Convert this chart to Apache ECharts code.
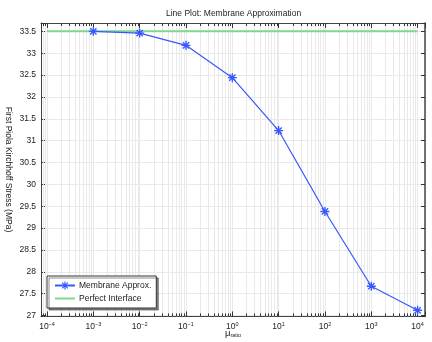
<!DOCTYPE html>
<html>
<head>
<meta charset="utf-8">
<script src="https://cdn.jsdelivr.net/npm/echarts@6/dist/echarts.min.js"></script>
<style>
html,body{margin:0;padding:0;background:#fff;}
#chart{width:432px;height:342px;}
</style>
</head>
<body>
<div id="chart"></div>
<script>
// ---- data ----
const muRatio = [1e-3, 1e-2, 1e-1, 1, 10, 100, 1000, 10000];
const membraneStress = [33.50, 33.46, 33.18, 32.44, 31.23, 29.38, 27.67, 27.12];
const perfectX = [1e-4, 1e4];
const perfectStress = [33.50, 33.50];
const yTicks = [27, 27.5, 28, 28.5, 29, 29.5, 30, 30.5, 31, 31.5, 32, 32.5, 33, 33.5];
const xDecades = [-4, -3, -2, -1, 0, 1, 2, 3, 4];

const X_MIN = Math.pow(10, -4.13);
const X_MAX = Math.pow(10, 4.16);
const Y_MIN = 26.98;
const Y_MAX = 33.69;

// minor tick values (2..9 x 10^n) for the log axis decoration
const minorVals = [];
for (let n = -5; n <= 4; n++) {
  for (let k = 2; k <= 9; k++) {
    const v = k * Math.pow(10, n);
    if (v > X_MIN && v < X_MAX) minorVals.push([v, 30]);
  }
}

const FONT = 'Liberation Sans';
const TXT = '#222';
const BLUE = '#3858ff';
const GREEN = '#7fd68f';
const GRID = '#e9e9e9';
const FRAME = '#444';

const star = 'path://M0 8.5L20 8.5L20 11.5L0 11.5Z M8.5 0L11.5 0L11.5 20L8.5 20Z M4.06 1.94L18.06 15.94L15.94 18.06L1.94 4.06Z M15.94 1.94L18.06 4.06L4.06 18.06L1.94 15.94Z';
const dash = 'path://M0 0L20 0L20 2L0 2Z';

function xLabel(v) {
  const e = Math.log10(v);
  const r = Math.round(e);
  if (Math.abs(e - r) > 1e-6 || xDecades.indexOf(r) < 0) return '';
  return '10{sup|' + (r < 0 ? '\u2212' + (-r) : r) + '}';
}
function yLabel(v) {
  for (const t of yTicks) if (Math.abs(v - t) < 1e-6) return String(t);
  return '';
}

const chart = echarts.init(document.getElementById('chart'), null, {renderer: 'canvas'});
chart.setOption({
  animation: false,
  backgroundColor: '#fff',
  textStyle: {fontFamily: FONT, color: TXT},
  title: {
    text: 'Line Plot: Membrane Approximation',
    left: 166, top: 9,
    padding: 0,
    textStyle: {fontFamily: FONT, fontSize: 8.5, fontWeight: 'normal', color: TXT}
  },
  grid: {left: 41, right: 7, top: 23, bottom: 25.6, containLabel: false, outerBoundsMode: 'none'},
  graphic: [{
    type: 'text', x: 8, y: 169.5, rotation: -Math.PI / 2,
    style: {text: 'First Piola Kirchhoff Stress (MPa)', font: '8.5px "Liberation Sans"', fill: TXT, align: 'center', verticalAlign: 'middle'}
  }, {
    type: 'text', x: 233, y: 333,
    style: {
      text: '{mu|\u03bc}{sub|ratio}', align: 'center', verticalAlign: 'middle', fill: TXT,
      rich: {
        mu: {fontFamily: FONT, fontSize: 9.5, fill: TXT},
        sub: {fontFamily: FONT, fontSize: 5.5, fill: TXT, verticalAlign: 'bottom', padding: [4, 0, 0, 0]}
      }
    }
  }],
  legend: {
    left: 47, top: 276,
    orient: 'vertical',
    data: [
      {name: 'Membrane Approx.'},
      {name: 'Perfect Interface', icon: dash}
    ],
    itemWidth: 20, itemHeight: 10, itemGap: 4,
    padding: [5, 5, 5, 7],
    backgroundColor: '#fff',
    borderColor: '#333', borderWidth: 1,
    shadowColor: 'rgba(0,0,0,0.45)', shadowOffsetX: 2, shadowOffsetY: 2, shadowBlur: 0,
    textStyle: {fontFamily: FONT, fontSize: 8.5, color: TXT, padding: [0, 0, 0, -1]}
  },
  xAxis: [{
    type: 'log', logBase: 10, min: X_MIN, max: X_MAX,
    position: 'bottom',
    axisLine: {show: true, lineStyle: {color: FRAME, width: 1}},
    axisTick: {show: true, inside: true, length: 5, lineStyle: {color: '#333'}},
    axisLabel: {
      margin: 5, formatter: xLabel, fontFamily: FONT, fontSize: 8.5, color: TXT,
      rich: {sup: {fontFamily: FONT, fontSize: 5.5, color: TXT, verticalAlign: 'top', padding: [0, 0, 5, 0]}}
    },
    splitLine: {show: true, lineStyle: {color: GRID, width: 1}},
    minorTick: {show: false}
  }, {
    type: 'log', logBase: 10, min: X_MIN, max: X_MAX,
    position: 'top',
    axisLine: {show: true, lineStyle: {color: FRAME, width: 1}},
    axisTick: {show: true, inside: true, length: 5, lineStyle: {color: '#333'}},
    axisLabel: {show: false},
    splitLine: {show: false}
  }],
  yAxis: [{
    type: 'value', min: Y_MIN, max: Y_MAX,
    splitNumber: 13, minInterval: 0.5, maxInterval: 0.5,
    position: 'left',
    axisLine: {show: true, lineStyle: {color: FRAME, width: 1}},
    axisTick: {show: true, inside: true, length: 4, lineStyle: {color: '#333'}},
    axisLabel: {margin: 5, formatter: yLabel, fontFamily: FONT, fontSize: 8.5, color: TXT},
    splitLine: {show: true, lineStyle: {color: GRID, width: 1}}
  }, {
    type: 'value', min: Y_MIN, max: Y_MAX,
    splitNumber: 13, minInterval: 0.5, maxInterval: 0.5,
    position: 'right',
    axisLine: {show: true, lineStyle: {color: FRAME, width: 1.5}},
    axisTick: {show: true, inside: true, length: 4, lineStyle: {color: '#333'}},
    axisLabel: {show: false},
    splitLine: {show: false}
  }],
  series: [{
    type: 'custom', name: 'minor', silent: true, z: 1,
    xAxisIndex: 0, yAxisIndex: 0,
    data: minorVals,
    encode: {x: 0, y: 1},
    renderItem: function (params, api) {
      const cs = params.coordSys;
      const x = Math.round(api.coord([api.value(0), api.value(1)])[0]) + 0.5;
      const top = cs.y, bot = cs.y + cs.height;
      return {type: 'group', children: [
        {type: 'line', shape: {x1: x, y1: top, x2: x, y2: bot}, style: {stroke: GRID, lineWidth: 1}},
        {type: 'line', shape: {x1: x, y1: bot, x2: x, y2: bot - 3}, style: {stroke: '#333', lineWidth: 1}, z2: 10},
        {type: 'line', shape: {x1: x, y1: top, x2: x, y2: top + 3}, style: {stroke: '#333', lineWidth: 1}, z2: 10}
      ]};
    }
  }, {
    type: 'line', name: 'Perfect Interface', z: 3,
    data: perfectX.map((x, i) => [x, perfectStress[i]]),
    showSymbol: false, symbol: 'none',
    lineStyle: {color: GREEN, width: 2},
    itemStyle: {color: GREEN}
  }, {
    type: 'line', name: 'Membrane Approx.', z: 4,
    data: muRatio.map((x, i) => [x, membraneStress[i]]),
    symbol: star, symbolSize: 9, showSymbol: true,
    lineStyle: {color: BLUE, width: 1.2},
    itemStyle: {color: BLUE}
  }]
});
</script>
</body>
</html>
